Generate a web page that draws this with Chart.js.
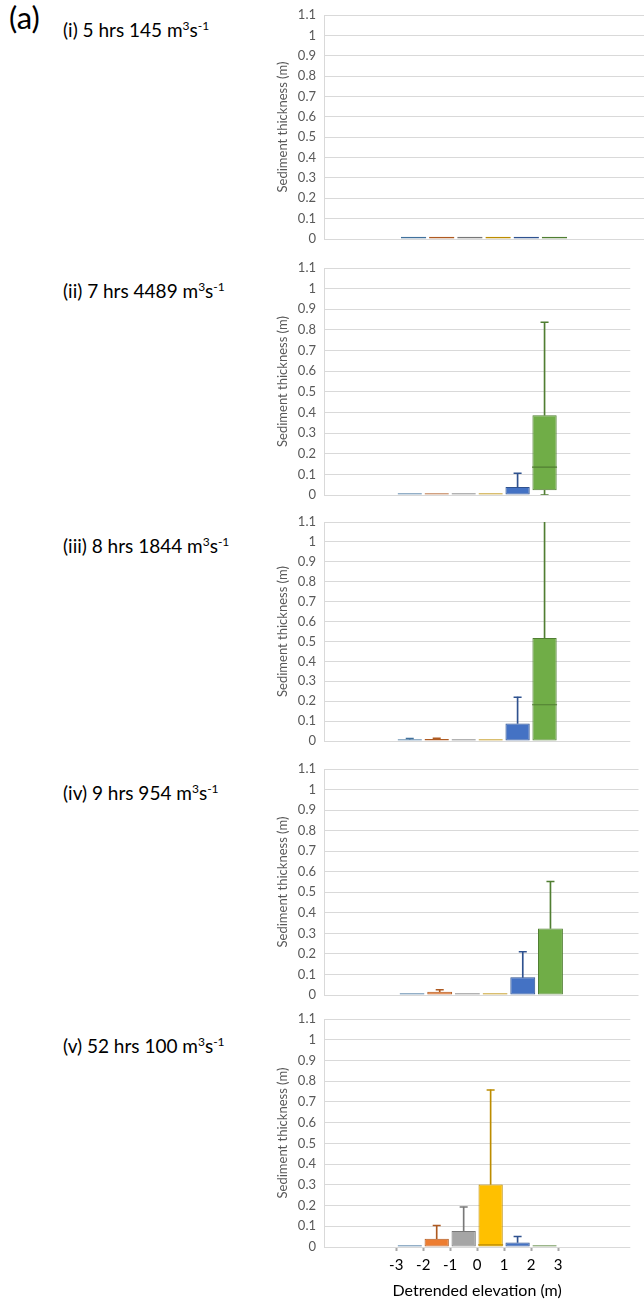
<!DOCTYPE html>
<html>
<head>
<meta charset="utf-8">
<script src="https://cdn.jsdelivr.net/npm/chart.js@4.4.0/dist/chart.umd.min.js"></script>
<style>
  html, body { margin: 0; padding: 0; background: #fff; }
  body { width: 644px; height: 1301px; position: relative; overflow: hidden; font-family: Lato, 'Open Sans', sans-serif; }
  .panel { position: absolute; left: 270px; width: 374px; }
  .panel canvas { display: block; }
  .title { position: absolute; left: 63px; font-size: 19px; line-height: 19px; color: #000; white-space: nowrap; }
  .title sup { font-size: 12px; vertical-align: 7px; line-height: 0; }
  #tag { position: absolute; left: 9px; top: 2px; font-size: 31px; line-height: 31px; color: #000; }
</style>
</head>
<body>
<div id="tag">(a)</div>
<div id="root"></div>
<script>
const PANEL_TITLES = [
  '(i) 5 hrs 145 m<sup>3</sup>s<sup>-1</sup>',
  '(ii) 7 hrs 4489 m<sup>3</sup>s<sup>-1</sup>',
  '(iii) 8 hrs 1844 m<sup>3</sup>s<sup>-1</sup>',
  '(iv) 9 hrs 954 m<sup>3</sup>s<sup>-1</sup>',
  '(v) 52 hrs 100 m<sup>3</sup>s<sup>-1</sup>'
];

// bins of detrended elevation: -3..-2, -2..-1, ... 2..3
const BIN_CENTERS = [-2.5, -1.5, -0.5, 0.5, 1.5, 2.5];
const X_TICKS = [-3, -2, -1, 0, 1, 2, 3];
const X_TICK_LABELS = ['-3', '-2', '-1', '0', '1', '2', '3'];
const Y_TICKS = [0, 0.1, 0.2, 0.3, 0.4, 0.5, 0.6, 0.7, 0.8, 0.9, 1, 1.1];
const Y_TICK_LABELS = ['0', '0.1', '0.2', '0.3', '0.4', '0.5', '0.6', '0.7', '0.8', '0.9', '1', '1.1'];

// one row per panel, one value per bin
const Q1 = [
  [0, 0, 0, 0, 0, 0],
  [0, 0, 0, 0, 0, 0.023],
  [0, 0, 0, 0, 0, 0],
  [0, 0, 0, 0, 0, 0],
  [0, 0, 0, 0, 0, 0]
];
const Q3 = [
  [0.011, 0.011, 0.011, 0.011, 0.011, 0.011],
  [0.009, 0.009, 0.009, 0.009, 0.039, 0.387],
  [0.009, 0.010, 0.009, 0.009, 0.088, 0.517],
  [0.009, 0.016, 0.009, 0.009, 0.086, 0.324],
  [0.009, 0.040, 0.077, 0.302, 0.022, 0.009]
];
const MEDIAN = [
  [0, 0, 0, 0, 0, 0],
  [0, 0, 0, 0, 0, 0.135],
  [0, 0, 0, 0, 0, 0.182],
  [0, 0, 0, 0, 0, 0],
  [0, 0, 0, 0.010, 0, 0]
];
const MAX = [
  [0.011, 0.011, 0.011, 0.011, 0.011, 0.011],
  [0.009, 0.009, 0.009, 0.009, 0.105, 0.837],
  [0.012, 0.014, 0.009, 0.009, 0.220, 1.108],
  [0.009, 0.026, 0.009, 0.009, 0.211, 0.552],
  [0.009, 0.104, 0.193, 0.758, 0.051, 0.009]
];
const MIN = [
  [0, 0, 0, 0, 0, 0],
  [0, 0, 0, 0, 0, 0],
  [0, 0, 0, 0, 0, 0],
  [0, 0, 0, 0, 0, 0],
  [0, 0, 0, 0, 0, 0]
];

const FILL = ['#5B9BD5', '#ED7D31', '#A5A5A5', '#FFC000', '#4472C4', '#70AD47'];
const LINE = ['#41719C', '#AE5A21', '#787878', '#BC8C00', '#2F528F', '#507E32'];

// canvas placement: plot area runs from top+16 to the zero line
const PANEL_TOP = [-1, 252, 506, 753, 1003];
const PANEL_HEIGHT = [256, 259, 251, 258, 298];
const TITLE_TOP = [20, 281, 536, 783, 1036];
const FONT = 'Lato, "Open Sans", sans-serif';

function buildDatasets(p) {
  const box = [], upper = [], lower = [], med = [], capHi = [], capLo = [];
  const upperCol = [], lowerCol = [], medCol = [], hiCol = [], loCol = [];
  BIN_CENTERS.forEach((x, i) => {
    box.push({x: x, y: [Q1[p][i], Q3[p][i]]});
    if (MAX[p][i] > Q3[p][i]) {
      upper.push({x: x, y: [Q3[p][i], MAX[p][i]]}); upperCol.push(LINE[i]);
      capHi.push({x: x, y: MAX[p][i]}); hiCol.push(LINE[i]);
    }
    if (MIN[p][i] < Q1[p][i]) {
      lower.push({x: x, y: [MIN[p][i], Q1[p][i]]}); lowerCol.push(LINE[i]);
      capLo.push({x: x, y: MIN[p][i]}); loCol.push(LINE[i]);
    }
    if (MEDIAN[p][i] > Q1[p][i]) {
      med.push({x: x, y: MEDIAN[p][i]}); medCol.push(LINE[i]);
    }
  });
  const cap = (data, col) => ({
    type: 'scatter', data: data, pointStyle: 'line', pointRadius: 4,
    pointBorderColor: col, pointBorderWidth: 1.5
  });
  return [
    cap(capHi, hiCol),
    cap(capLo, loCol),
    {type: 'scatter', data: med, pointStyle: 'line', pointRadius: 12.5,
     pointBorderColor: medCol, pointBorderWidth: 1.2},
    {type: 'bar', data: box, grouped: false, backgroundColor: FILL, borderColor: LINE,
     borderWidth: 1, borderSkipped: false, categoryPercentage: 1, barPercentage: 0.9},
    {type: 'bar', data: upper, grouped: false, backgroundColor: upperCol, barThickness: 1},
    {type: 'bar', data: lower, grouped: false, backgroundColor: lowerCol, barThickness: 1}
  ];
}

const root = document.getElementById('root');

PANEL_TITLES.forEach((t, p) => {
  const title = document.createElement('div');
  title.className = 'title';
  title.style.top = TITLE_TOP[p] + 'px';
  title.innerHTML = t;
  root.appendChild(title);

  const wrap = document.createElement('div');
  wrap.className = 'panel';
  wrap.style.top = PANEL_TOP[p] + 'px';
  wrap.style.height = PANEL_HEIGHT[p] + 'px';
  const canvas = document.createElement('canvas');
  canvas.width = 374;
  canvas.height = PANEL_HEIGHT[p];
  wrap.appendChild(canvas);
  root.appendChild(wrap);

  const isLast = p === PANEL_TITLES.length - 1;

  new Chart(canvas, {
    type: 'bar',
    data: {datasets: buildDatasets(p)},
    options: {
      responsive: false,
      animation: false,
      events: [],
      layout: {padding: {top: 16, bottom: isLast ? 0 : 16, left: 0, right: 0}},
      plugins: {legend: {display: false}, tooltip: {enabled: false}},
      scales: {
        x: {
          type: 'linear',
          min: -5.68,
          max: 5.68,
          offset: false,
          display: isLast,
          afterBuildTicks: s => { s.ticks = X_TICKS.map(v => ({value: v})); },
          afterFit: s => { s.height = isLast ? 54 : 0; },
          grid: {display: true, drawOnChartArea: false, drawTicks: true, tickLength: 4,
                 tickColor: '#a6a6a6', tickWidth: 2, offset: false},
          border: {display: false},
          ticks: {
            callback: (v, i) => X_TICK_LABELS[i],
            color: '#000', font: {size: 15, family: FONT}, padding: 5,
            maxRotation: 0, autoSkip: false
          },
          title: {display: true, text: 'Detrended elevation (m)', color: '#000',
                  font: {size: 16, family: FONT}, padding: {top: 0, bottom: 1}}
        },
        y: {
          type: 'linear',
          min: 0,
          max: 1.1,
          afterBuildTicks: s => { s.ticks = Y_TICKS.map(v => ({value: v})); },
          afterFit: s => { s.width = 54; },
          grid: {color: '#d9d9d9', lineWidth: 1, drawTicks: false},
          border: {display: true, color: '#d9d9d9'},
          ticks: {
            callback: (v, i) => Y_TICK_LABELS[i],
            color: '#595959', font: {size: 13, family: FONT}, padding: 8,
            autoSkip: false
          },
          title: {display: true, text: 'Sediment thickness (m)', color: '#595959',
                  font: {size: 13, family: FONT}, padding: {top: 5, bottom: 0}}
        }
      }
    }
  });
});
</script>
</body>
</html>
